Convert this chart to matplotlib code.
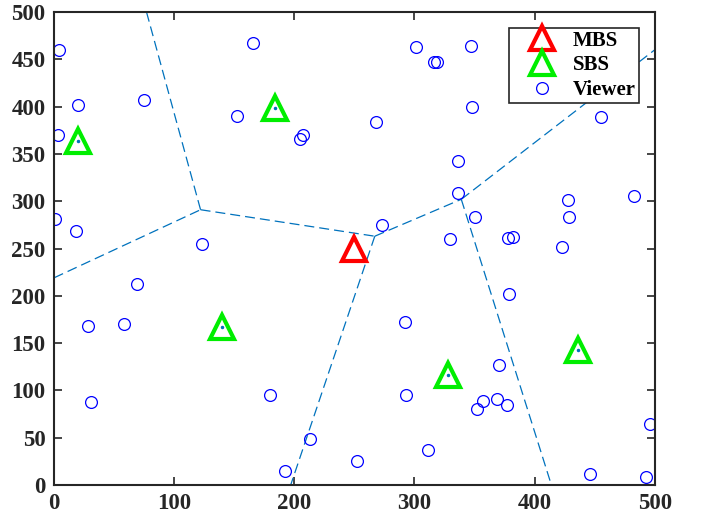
import matplotlib
matplotlib.use('Agg')
import matplotlib.pyplot as plt

# base station positions
mbs_x = [250]
mbs_y = [250]
sbs_x = [20, 184, 140, 328, 436]
sbs_y = [364, 398, 167, 116, 143]

# viewers
viewer_x = [4, 20, 3, 1, 18, 75, 166, 152, 207, 205, 268, 301, 316, 319, 347,
            348, 336, 336, 273, 330, 350, 378, 382, 379, 428, 429, 423, 483,
            455, 123, 69, 28, 58, 31, 180, 213, 192, 252, 292, 293, 311, 352,
            357, 369, 377, 370, 446, 493, 496]
viewer_y = [460, 402, 370, 281, 269, 407, 467, 390, 370, 366, 384, 463, 447,
            447, 464, 400, 342, 309, 275, 260, 283, 261, 262, 202, 301, 283,
            252, 305, 389, 255, 212, 168, 170, 88, 95, 49, 15, 25, 172, 95,
            37, 80, 89, 91, 85, 127, 12, 8, 64]

# voronoi edges of the SBS (start x, start y, end x, end y)
edge_x0 = [77, 0, 122, 267, 267, 339, 339]
edge_y0 = [500, 219, 291, 263, 263, 302, 302]
edge_x1 = [122, 122, 267, 197, 339, 414, 500]
edge_y1 = [291, 291, 263, 0, 302, 0, 460]

plt.rcParams['font.family'] = 'Liberation Serif'
plt.rcParams['font.weight'] = 'bold'

fig = plt.figure(figsize=(7.01, 5.21), dpi=100)
ax = fig.add_axes([0.077, 0.069, 0.857, 0.908])

for i in range(len(edge_x0)):
    ax.plot([edge_x0[i], edge_x1[i]], [edge_y0[i], edge_y1[i]], '--',
            color='#0072BD', lw=0.9, dashes=(8, 4))
ax.plot(sbs_x, sbs_y, '.', color='#0072BD', ms=3)

ax.plot(mbs_x, mbs_y, '^', mfc='none', mec='red', ms=17, mew=3, label='MBS')
ax.plot(sbs_x, sbs_y, '^', mfc='none', mec='#00ee00', ms=17, mew=3, label='SBS')
ax.plot(viewer_x, viewer_y, 'o', mfc='none', mec='blue', ms=8.5, mew=0.9,
        label='Viewer', linestyle='none')

ax.set_xlim(0, 500)
ax.set_ylim(0, 500)
ax.set_xticks(range(0, 501, 100))
ax.set_yticks(range(0, 501, 50))
ax.tick_params(direction='in', top=True, right=True, labelsize=16.5,
               colors='#262626', width=1.2, length=6, pad=6)
for s in ax.spines.values():
    s.set_linewidth(1.5)
    s.set_color('#262626')

leg = ax.legend(loc='upper right', fontsize=15, fancybox=False, framealpha=1,
                edgecolor='#262626', borderpad=0.15, labelspacing=0.22,
                handletextpad=0.1, handlelength=2.8, borderaxespad=0.75)
leg.get_frame().set_linewidth(1.2)

fig.savefig('out.png', dpi=100)
